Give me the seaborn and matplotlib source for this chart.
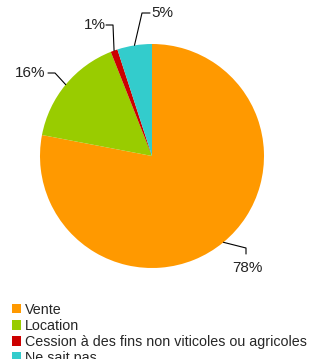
import numpy as np
import matplotlib
matplotlib.use("Agg")
import matplotlib.pyplot as plt
import seaborn as sns
from matplotlib.patches import Patch

categories = ["Vente", "Location", "Cession à des fins non viticoles ou agricoles", "Ne sait pas"]
values = [78, 16, 1, 5]
colors = ["#FF9900", "#99CC00", "#CC0000", "#33CCCC"]

sns.set_theme(style="white")
plt.rcParams['font.family'] = ['Liberation Sans', 'DejaVu Sans']

W, H = 320, 359
fig = plt.figure(figsize=(W / 100, H / 100), dpi=100)
cx, cy, r = 152, 156, 112
ax = fig.add_axes([(cx - r) / W, (H - cy - r) / H, 2 * r / W, 2 * r / H])
wedges, _ = ax.pie(values, colors=colors, startangle=90, counterclock=False,
                   radius=1, wedgeprops=dict(linewidth=0))
ax.set_xlim(-1, 1)
ax.set_ylim(-1, 1)
ax.set_aspect("equal")
ax.axis("off")

def px(p):
    return ((p[0] - cx) / r, (cy - p[1]) / r)

# label layout (elbow point, text position, alignment) in pixels
layout = [
    ((246, 248), (247, 268), "center", "center"),
    ((55, 73), (30, 73), "center", "center"),
    ((113, 25), (95, 25), "center", "center"),
    ((142, 13), (162, 13), "center", "center"),
]
for w, v, (elb, txt, ha, va) in zip(wedges, values, layout):
    ang = np.deg2rad((w.theta1 + w.theta2) / 2)
    start = (np.cos(ang), np.sin(ang))
    e = px(elb)
    if txt[1] > elb[1] + 5:
        end = px((elb[0], elb[1] + 6))
    elif txt[0] < elb[0]:
        end = px((elb[0] - 7, elb[1]))
    else:
        end = px((elb[0] + 8, elb[1]))
    ax.plot([start[0], e[0], end[0]], [start[1], e[1], end[1]], color="black",
            lw=0.8, clip_on=False)
    t = px(txt)
    ax.text(t[0], t[1], f"{v}%", ha=ha, va=va, fontsize=11, color="#222222",
            clip_on=False)

handles = [Patch(facecolor=c, edgecolor="none") for c in colors]
fig.legend(handles, categories, loc="upper left", bbox_to_anchor=(12 / W, 1 - 303 / H),
           frameon=False, fontsize=10.3, handlelength=0.6, handleheight=0.6,
           handletextpad=0.3, labelspacing=0.14, borderpad=0, borderaxespad=0)

fig.savefig("out.png", dpi=100, facecolor="white")
